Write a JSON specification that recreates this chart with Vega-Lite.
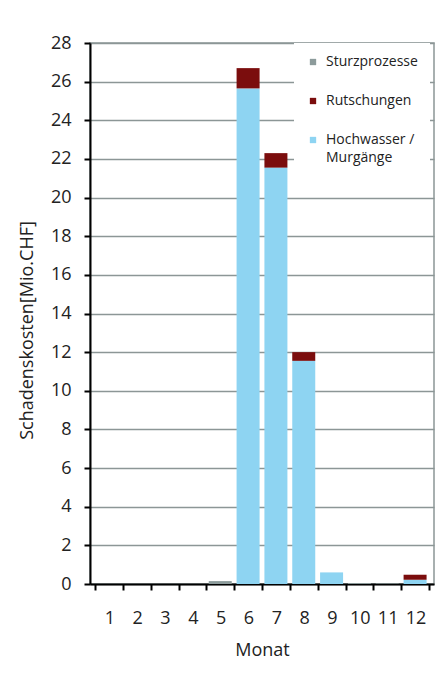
{
  "$schema": "https://vega.github.io/schema/vega-lite/v6.json",
  "autosize": "none",
  "width": 344,
  "height": 541,
  "padding": {"left": 90, "top": 43, "right": 9, "bottom": 95},
  "background": "white",
  "config": {"view": {"stroke": "#8c9696", "strokeWidth": 1.5}, "font": "Open Sans"},
  "data": {"values": [
    {"Monat": 1, "Prozess": "Sturzprozesse", "Wert": 0, "Rang": 3},
    {"Monat": 2, "Prozess": "Sturzprozesse", "Wert": 0, "Rang": 3},
    {"Monat": 3, "Prozess": "Sturzprozesse", "Wert": 0, "Rang": 3},
    {"Monat": 4, "Prozess": "Sturzprozesse", "Wert": 0, "Rang": 3},
    {"Monat": 5, "Prozess": "Sturzprozesse", "Wert": 0.15, "Rang": 3},
    {"Monat": 6, "Prozess": "Hochwasser / Murgänge", "Wert": 25.65, "Rang": 1},
    {"Monat": 6, "Prozess": "Rutschungen", "Wert": 1.05, "Rang": 2},
    {"Monat": 7, "Prozess": "Hochwasser / Murgänge", "Wert": 21.55, "Rang": 1},
    {"Monat": 7, "Prozess": "Rutschungen", "Wert": 0.75, "Rang": 2},
    {"Monat": 8, "Prozess": "Hochwasser / Murgänge", "Wert": 11.55, "Rang": 1},
    {"Monat": 8, "Prozess": "Rutschungen", "Wert": 0.45, "Rang": 2},
    {"Monat": 9, "Prozess": "Hochwasser / Murgänge", "Wert": 0.6, "Rang": 1},
    {"Monat": 10, "Prozess": "Sturzprozesse", "Wert": 0.05, "Rang": 3},
    {"Monat": 11, "Prozess": "Sturzprozesse", "Wert": 0.03, "Rang": 3},
    {"Monat": 12, "Prozess": "Hochwasser / Murgänge", "Wert": 0.22, "Rang": 1},
    {"Monat": 12, "Prozess": "Rutschungen", "Wert": 0.26, "Rang": 2}
  ]},
  "mark": {"type": "bar", "width": 23},
  "encoding": {
    "x": {
      "field": "Monat", "type": "quantitative",
      "scale": {"domain": [0.5, 12.5], "nice": false, "zero": false},
      "axis": {
        "values": [0.5, 1.5, 2.5, 3.5, 4.5, 5.5, 6.5, 7.5, 8.5, 9.5, 10.5, 11.5, 12.5],
        "labelExpr": "datum.value < 12 ? format(datum.value + 0.5, 'd') : ''",
        "labelOffset": 14.33,
        "grid": false,
        "domainColor": "black", "domainWidth": 2,
        "tickColor": "black", "tickWidth": 2, "tickSize": 6,
        "labelFontSize": 18, "labelColor": "#222", "labelPadding": 19,
        "labelOverlap": false, "labelBound": false, "labelFlush": false,
        "title": "Monat", "titleFontSize": 18, "titleFontWeight": "normal", "titleColor": "#222", "titlePadding": 14
      }
    },
    "y": {
      "field": "Wert", "type": "quantitative", "stack": "zero",
      "scale": {"domain": [0, 28], "nice": false},
      "axis": {
        "values": [0, 2, 4, 6, 8, 10, 12, 14, 16, 18, 20, 22, 24, 26, 28],
        "grid": true, "gridColor": "#8c9696", "gridWidth": 1.5,
        "domainColor": "black", "domainWidth": 2,
        "tickColor": "black", "tickWidth": 2, "tickSize": 6,
        "labelFontSize": 18, "labelColor": "#222", "labelPadding": 13,
        "title": "Schadenskosten[Mio.CHF]", "titleFontSize": 18, "titleFontWeight": "normal", "titleColor": "#222",
        "titlePadding": 14, "titleY": 287
      }
    },
    "color": {
      "field": "Prozess", "type": "nominal",
      "scale": {
        "domain": ["Sturzprozesse", "Rutschungen", "Hochwasser / Murgänge"],
        "range": ["#8c9b9b", "#7b0d0d", "#8ed4f2"]
      },
      "legend": {
        "title": null, "orient": "none", "legendX": 204, "legendY": 0,
        "fillColor": "white", "padding": 12,
        "symbolType": "square", "symbolSize": 40, "symbolStrokeWidth": 0,
        "labelFontSize": 14, "labelColor": "#222", "labelOffset": 6,
        "rowPadding": 25, "labelLimit": 0,
        "labelExpr": "datum.label == 'Hochwasser / Murgänge' ? ['Hochwasser /', 'Murgänge'] : datum.label",
        "encode": {"labels": {"update": {"lineHeight": {"value": 18}}}}
      }
    },
    "order": {"field": "Rang", "type": "quantitative"}
  }
}
